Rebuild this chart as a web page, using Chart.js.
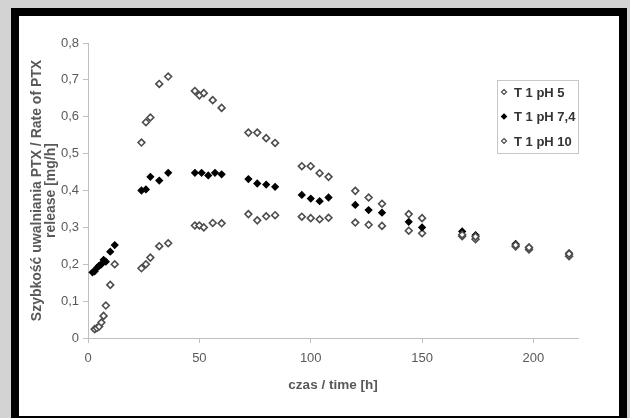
<!DOCTYPE html>
<html>
<head>
<meta charset="utf-8">
<script src="https://cdn.jsdelivr.net/npm/chart.js@4"></script>
<style>
  html, body { margin: 0; padding: 0; background: #d3d3d3; width: 630px; height: 418px; overflow: hidden; }
  .frame { position: absolute; left: 11px; top: 8px; width: 600px; height: 400px; border: 8px solid #000; background: #fff; }
  canvas { display: block; }
</style>
</head>
<body>
<div class="frame"><canvas id="releaseChart" width="600" height="400"></canvas></div>
<script>
// dane
const timePh5 = [24, 26, 28, 32, 36, 48, 50, 52, 56, 60, 72, 76, 80, 84, 96, 100, 104, 108, 120, 126, 132, 144, 150, 168, 174, 192, 198, 216];
const ratePh5 = [0.530, 0.585, 0.598, 0.689, 0.709, 0.670, 0.658, 0.664, 0.645, 0.624, 0.557, 0.557, 0.542, 0.529, 0.466, 0.466, 0.447, 0.437, 0.399, 0.381, 0.364, 0.336, 0.325, 0.280, 0.275, 0.252, 0.245, 0.228];

const timePh74 = [2, 3, 4, 5, 6, 7, 8, 10, 12, 24, 26, 28, 32, 36, 48, 51, 54, 57, 60, 72, 76, 80, 84, 96, 100, 104, 108, 120, 126, 132, 144, 150, 168, 174, 192, 198, 216];
const ratePh74 = [0.178, 0.181, 0.190, 0.196, 0.200, 0.212, 0.207, 0.234, 0.252, 0.400, 0.403, 0.437, 0.427, 0.448, 0.448, 0.448, 0.441, 0.448, 0.444, 0.431, 0.419, 0.416, 0.410, 0.388, 0.378, 0.371, 0.381, 0.361, 0.347, 0.340, 0.315, 0.300, 0.289, 0.279, 0.255, 0.246, 0.230];

const timePh10 = [3, 4, 5, 6, 7, 8, 10, 12, 24, 26, 28, 32, 36, 48, 50, 52, 56, 60, 72, 76, 80, 84, 96, 100, 104, 108, 120, 126, 132, 144, 150, 168, 174, 192, 198, 216];
const ratePh10 = [0.024, 0.027, 0.031, 0.042, 0.060, 0.088, 0.144, 0.200, 0.189, 0.200, 0.218, 0.249, 0.257, 0.305, 0.305, 0.300, 0.312, 0.311, 0.336, 0.319, 0.330, 0.333, 0.329, 0.325, 0.322, 0.326, 0.313, 0.307, 0.304, 0.291, 0.284, 0.276, 0.268, 0.248, 0.240, 0.222];

const seriesLabels = ['T 1 pH 5', 'T 1 pH 7,4', 'T 1 pH 10'];
const xTitle = 'czas / time [h]';
const yTitle = ['Szybkość uwalniania PTX / Rate of PTX', 'release [mg/h]'];

const FONT = 'Arial, "Liberation Sans", sans-serif';
const GREY = '#595959';
const AXIS = '#bfbfbf';

function toPoints(xs, ys) {
    return xs.map((x, i) => ({ x: x, y: ys[i] }));
}

// legenda w obszarze wykresu (prawy górny róg)
const insideLegend = {
    id: 'insideLegend',
    afterDraw(chart) {
        const ctx = chart.ctx;
        const area = chart.chartArea;
        const w = 81, h = 73;
        const left = area.right - w, top = area.top + 37;
        ctx.save();
        ctx.fillStyle = '#fff';
        ctx.fillRect(left, top, w, h);
        ctx.strokeStyle = '#c8c8c8';
        ctx.lineWidth = 1;
        ctx.strokeRect(left + 0.5, top + 0.5, w, h);
        ctx.font = 'bold 13px ' + FONT;
        ctx.textBaseline = 'middle';
        chart.data.datasets.forEach((ds, i) => {
            const y = top + 12 + i * 24.5;
            const x = left + 7;
            ctx.beginPath();
            ctx.moveTo(x, y - 2.5);
            ctx.lineTo(x + 2.5, y);
            ctx.lineTo(x, y + 2.5);
            ctx.lineTo(x - 2.5, y);
            ctx.closePath();
            ctx.fillStyle = ds.pointBackgroundColor;
            ctx.fill();
            ctx.strokeStyle = ds.pointBorderColor;
            ctx.lineWidth = 1.2;
            ctx.stroke();
            ctx.fillStyle = '#333';
            ctx.fillText(ds.label, left + 17, y + 1);
        });
        ctx.restore();
    }
};

const ctx = document.getElementById('releaseChart').getContext('2d');
new Chart(ctx, {
    type: 'scatter',
    data: {
        datasets: [{
            label: seriesLabels[0],
            data: toPoints(timePh5, ratePh5),
            pointStyle: 'rectRot',
            pointRadius: 3.4,
            pointBackgroundColor: '#fff',
            pointBorderColor: '#4d4d4d',
            pointBorderWidth: 1.6
        }, {
            label: seriesLabels[1],
            data: toPoints(timePh74, ratePh74),
            pointStyle: 'rectRot',
            pointRadius: 3.3,
            pointBackgroundColor: '#000',
            pointBorderColor: '#000',
            pointBorderWidth: 1.2
        }, {
            label: seriesLabels[2],
            data: toPoints(timePh10, ratePh10),
            pointStyle: 'rectRot',
            pointRadius: 3.4,
            pointBackgroundColor: '#fff',
            pointBorderColor: '#4d4d4d',
            pointBorderWidth: 1.6
        }]
    },
    options: {
        responsive: false,
        animation: false,
        layout: { padding: { top: 27, right: 41, left: 0, bottom: 0 } },
        plugins: {
            legend: { display: false },
            tooltip: { enabled: false }
        },
        scales: {
            x: {
                type: 'linear',
                min: 0,
                max: 220,
                border: { color: AXIS, width: 1 },
                grid: { drawOnChartArea: false, drawTicks: true, tickLength: 5, color: AXIS },
                ticks: { stepSize: 50, includeBounds: false, padding: 8, color: GREY, font: { family: FONT, size: 13 } },
                title: { display: true, text: xTitle, color: GREY, padding: { top: 0, bottom: 23 }, font: { family: FONT, size: 13.5, weight: 'bold' } },
                afterFit(scale) { scale.height = 78; }
            },
            y: {
                min: 0,
                max: 0.8,
                border: { color: AXIS, width: 1 },
                grid: { drawOnChartArea: false, drawTicks: true, tickLength: 5, color: AXIS },
                ticks: {
                    stepSize: 0.1,
                    padding: 4,
                    color: GREY,
                    font: { family: FONT, size: 13 },
                    callback: v => v === 0 ? '0' : v.toFixed(1).replace('.', ',')
                },
                title: { display: true, text: yTitle, color: GREY, padding: { top: 11, bottom: 0 }, font: { family: FONT, size: 14, weight: 'bold', lineHeight: 1.0 } },
                afterFit(scale) { scale.width = 69; }
            }
        }
    },
    plugins: [insideLegend]
});
</script>
</body>
</html>
